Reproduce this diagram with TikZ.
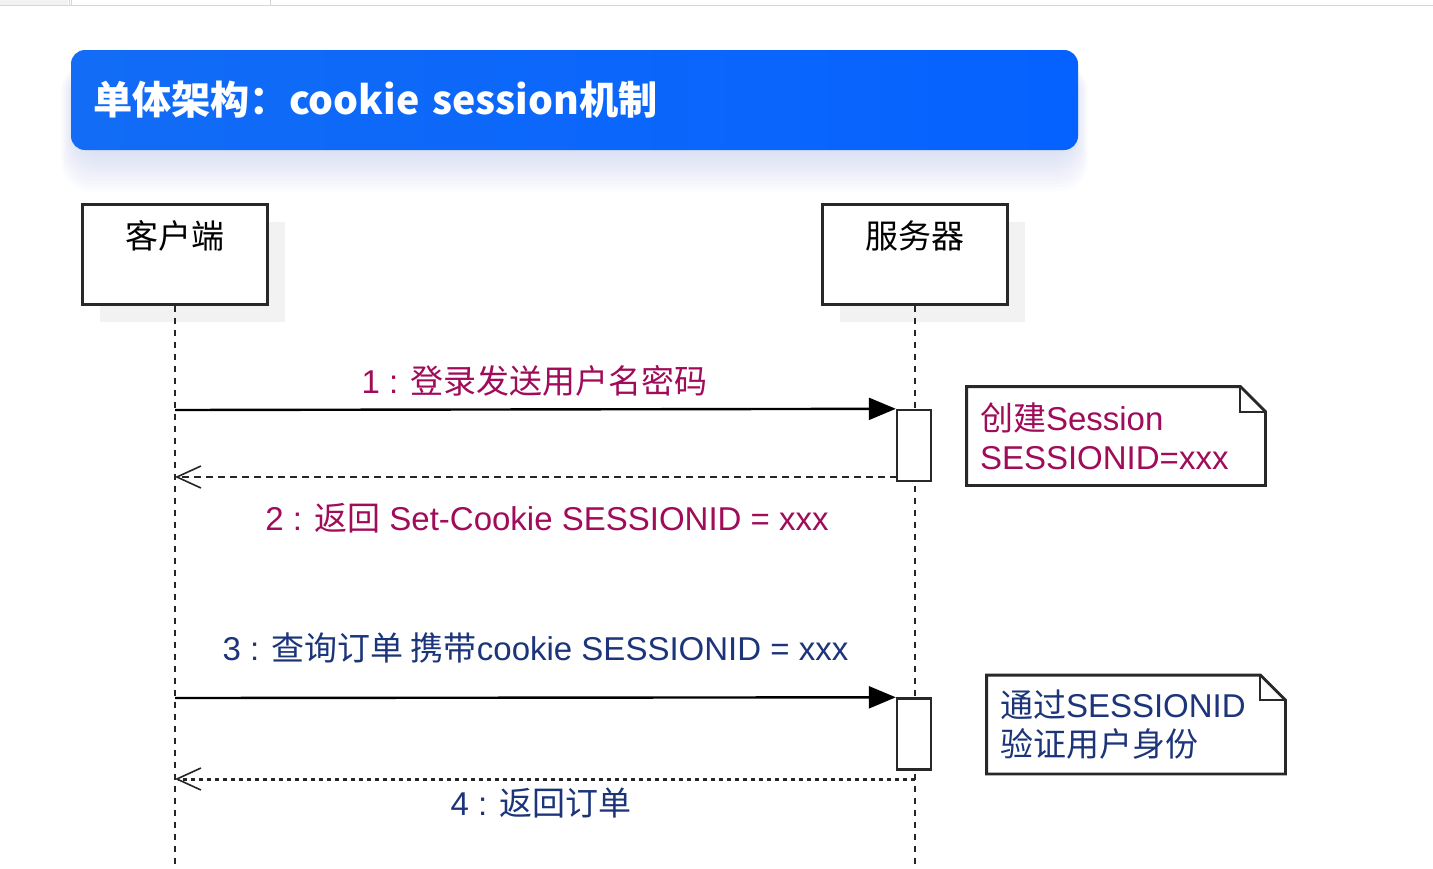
\documentclass[tikz,border=0pt]{standalone}
\usepackage{fontspec}
\setmainfont{Liberation Sans}
\newfontfamily\cjk{Noto Sans CJK SC}
\usetikzlibrary{arrows.meta,positioning}
\definecolor{titleBlue}{RGB}{5,98,255}
\definecolor{titleBlueL}{RGB}{18,108,246}
\definecolor{glowBlue}{RGB}{175,190,232}
\definecolor{msgRed}{RGB}{160,12,90}
\definecolor{msgBlue}{RGB}{28,52,122}
\definecolor{boxLine}{RGB}{40,40,40}
\definecolor{boxShadow}{RGB}{242,242,242}
\definecolor{tabGray}{RGB}{214,214,214}

\tikzset{
  msgfont/.style={font=\fontsize{16.5}{19.5}\selectfont},
  titlebox/.style={rounded corners=7pt, left color=titleBlueL, right color=titleBlue,
    minimum height=50pt, text width=481.5pt, inner xsep=11pt, inner ysep=0pt,
    align=left, text=white, font=\cjk\bfseries\fontsize{19.6}{23}\selectfont},
  actorbox/.style={draw=boxLine, line width=1.5pt, fill=white,
    minimum width=92.5pt, minimum height=50pt, inner sep=0pt},
  actorlabel/.style={anchor=north, inner sep=0pt, yshift=-9pt,
    font=\cjk\fontsize{16.5}{20}\selectfont},
  lifeline/.style={line width=1pt, draw=black!85, dash pattern=on 3pt off 3pt},
  actbox/.style={draw=boxLine, line width=1.2pt, fill=white,
    minimum width=17pt, minimum height=35.5pt, inner sep=0pt},
  call/.style={line width=1.2pt, -{Triangle[length=13.5pt,width=11pt]}},
  reply/.style={line width=1.3pt, draw=black!85, dash pattern=on 3.5pt off 2.5pt,
    -{Straight Barb[length=12pt,width=11pt,line width=0.8pt]}},
  replydot/.style={reply, line width=1.5pt, dash pattern=on 2pt off 2pt},
  notebox/.style={msgfont, text width=136pt, inner xsep=6.5pt, align=left,
    minimum height=49pt},
  noteline/.style={draw=boxLine, line width=1.4pt, line join=miter}
}

\begin{document}
\begin{tikzpicture}[x=0.5pt, y=-0.5pt]
  \useasboundingbox (0,0) rectangle (1433,868);
  \fill[white] (0,0) rectangle (1433,868);

  % browser tab strip
  \fill[boxShadow] (0,0) rectangle (68,5);
  \draw[tabGray, line width=0.8pt] (0,5.5) -- (1433,5.5);
  \foreach \x in {69,71,270}
    \draw[tabGray, line width=0.5pt] (\x,0) -- (\x,5);

  % title banner with soft glow
  \foreach \s in {1,...,12}
    \fill[glowBlue, opacity=0.04, rounded corners=14pt]
      (76-1.2*\s,70-0.6*\s) rectangle (1073+1.2*\s,150+3.4*\s);
  \node[titlebox] (title) at (574.5,100)
    {单体架构：cookie session机制};

  % actors
  \fill[boxShadow] (100,222) rectangle (285,322);
  \fill[boxShadow] (840,222) rectangle (1025,322);
  \node[actorbox, label={[actorlabel]north:客户端}] (client) at (175,254) {};
  \node[actorbox, label={[actorlabel]north:服务器}] (server) at (915,254) {};

  % lifelines
  \coordinate (clientEnd) at (175,868);
  \coordinate (serverEnd) at (915,868);
  \draw[lifeline] (client.south) -- (clientEnd);
  \draw[lifeline] (server.south) -- (serverEnd);

  % activations
  \node[actbox] (act1) at (914,445.5) {};
  \node[actbox] (act2) at (914,734) {};

  % messages
  \coordinate (c1) at (175,410);
  \coordinate (c2) at (175,477);
  \coordinate (c3) at (175,698);
  \coordinate (c4) at (175,779);
  \coordinate (s2) at (897,477);
  \coordinate (s4) at (915,779);

  \draw[call] (c1) -- (act1.north west);
  \draw[reply] (s2) -- (c2);
  \draw[call] (c3) -- (act2.north west);
  \draw[replydot] (s4) -- (c4);

  \node[msgfont, text=msgRed] (m1) at (534.5,381)
    {1 : {\cjk 登录发送用户名密码}};
  \node[msgfont, text=msgRed] (m2) at (547,518)
    {2 : {\cjk 返回} Set-Cookie SESSIONID = xxx};
  \node[msgfont, text=msgBlue] (m3) at (535.5,648)
    {3 : {\cjk 查询订单 携带}cookie SESSIONID = xxx};
  \node[msgfont, text=msgBlue] (m4) at (541,803)
    {4 : {\cjk 返回订单}};

  % notes
  \node[notebox, text=msgRed] (note1) at (1116,436)
    {{\cjk 创建}Session\\SESSIONID=xxx};
  \node[notebox, text=msgBlue] (note2) at (1136,724.5)
    {{\cjk 通过}SESSIONID\\{\cjk 验证用户身份}};
  \foreach \n in {note1,note2} {
    \draw[noteline] (\n.north west) -- ([xshift=-12.5pt]\n.north east)
      -- ([yshift=-12.5pt]\n.north east) -- (\n.south east)
      -- (\n.south west) -- cycle;
    \draw[noteline, line width=1pt] ([xshift=-12.5pt]\n.north east)
      -- ([xshift=-12.5pt,yshift=-12.5pt]\n.north east)
      -- ([yshift=-12.5pt]\n.north east);
  }
\end{tikzpicture}
\end{document}
